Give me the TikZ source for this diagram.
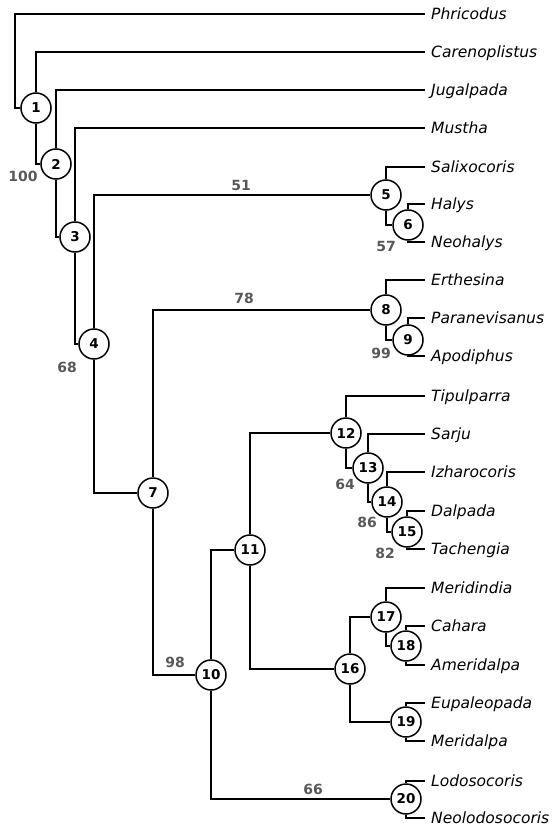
\documentclass[tikz,border=0pt]{standalone}
\usepackage{fontspec}
\newfontfamily\dejavu{DejaVu Sans}
\begin{document}
\begin{tikzpicture}[x=1pt,y=-1pt,
  br/.style={line width=2.1pt},
  cl/.style={circle,draw,line width=1.5pt,fill=white,minimum size=30pt,inner sep=0pt,font=\dejavu\bfseries\fontsize{13.5}{14}\selectfont},
  leaf/.style={anchor=west,inner xsep=6pt,inner ysep=0pt,text height=11pt,text depth=0pt,font=\dejavu\itshape\fontsize{15.5}{16}\selectfont},
  boot/.style={inner sep=0pt,text=bootgray,font=\dejavu\bfseries\fontsize{14}{14}\selectfont}]
\definecolor{bootgray}{RGB}{88,88,88}
\useasboundingbox (0,0) rectangle (557,829);
% leaves
\node[leaf] (Phricodus) at (425,14) {Phricodus};
\node[leaf] (Carenoplistus) at (425,52) {Carenoplistus};
\node[leaf] (Jugalpada) at (425,90) {Jugalpada};
\node[leaf] (Mustha) at (425,128) {Mustha};
\node[leaf] (Salixocoris) at (425,167) {Salixocoris};
\node[leaf] (Halys) at (425,204) {Halys};
\node[leaf] (Neohalys) at (425,242) {Neohalys};
\node[leaf] (Erthesina) at (425,280) {Erthesina};
\node[leaf] (Paranevisanus) at (425,318) {Paranevisanus};
\node[leaf] (Apodiphus) at (425,356) {Apodiphus};
\node[leaf] (Tipulparra) at (425,396) {Tipulparra};
\node[leaf] (Sarju) at (425,434) {Sarju};
\node[leaf] (Izharocoris) at (425,472) {Izharocoris};
\node[leaf] (Dalpada) at (425,511) {Dalpada};
\node[leaf] (Tachengia) at (425,549) {Tachengia};
\node[leaf] (Meridindia) at (425,588) {Meridindia};
\node[leaf] (Cahara) at (425,626) {Cahara};
\node[leaf] (Ameridalpa) at (425,665) {Ameridalpa};
\node[leaf] (Eupaleopada) at (425,703) {Eupaleopada};
\node[leaf] (Meridalpa) at (425,741) {Meridalpa};
\node[leaf] (Lodosocoris) at (425,781) {Lodosocoris};
\node[leaf] (Neolodosocoris) at (425,818) {Neolodosocoris};
% internal nodes
\node[cl] (n1) at (36,108) {1};
\node[cl] (n2) at (56,164) {2};
\node[cl] (n3) at (75,237) {3};
\node[cl] (n4) at (94,344) {4};
\node[cl] (n5) at (386,195) {5};
\node[cl] (n6) at (408,225) {6};
\node[cl] (n7) at (153,493) {7};
\node[cl] (n8) at (386,310) {8};
\node[cl] (n9) at (408,340) {9};
\node[cl] (n10) at (211,675) {10};
\node[cl] (n11) at (250,550) {11};
\node[cl] (n12) at (346,433) {12};
\node[cl] (n13) at (368,468) {13};
\node[cl] (n14) at (387,502) {14};
\node[cl] (n15) at (407,532) {15};
\node[cl] (n16) at (350,669) {16};
\node[cl] (n17) at (386,617) {17};
\node[cl] (n18) at (406,646) {18};
\node[cl] (n19) at (406,722) {19};
\node[cl] (n20) at (406,799) {20};
\coordinate (root) at (15,108);
% branches
\draw[br] (n1.west) -- (root) |- (Phricodus.west);
\draw[br] (n1.north) |- (Carenoplistus.west);
\draw[br] (n1.south) |- (n2.west);
\draw[br] (n2.north) |- (Jugalpada.west);
\draw[br] (n2.south) |- (n3.west);
\draw[br] (n3.north) |- (Mustha.west);
\draw[br] (n3.south) |- (n4.west);
\draw[br] (n4.north) |- (n5.west);
\draw[br] (n4.south) |- (n7.west);
\draw[br] (n5.north) |- (Salixocoris.west);
\draw[br] (n5.south) |- (n6.west);
\draw[br] (n6.north) |- (Halys.west);
\draw[br] (n6.south) |- (Neohalys.west);
\draw[br] (n7.north) |- (n8.west);
\draw[br] (n7.south) |- (n10.west);
\draw[br] (n8.north) |- (Erthesina.west);
\draw[br] (n8.south) |- (n9.west);
\draw[br] (n9.north) |- (Paranevisanus.west);
\draw[br] (n9.south) |- (Apodiphus.west);
\draw[br] (n10.north) |- (n11.west);
\draw[br] (n10.south) |- (n20.west);
\draw[br] (n11.north) |- (n12.west);
\draw[br] (n11.south) |- (n16.west);
\draw[br] (n12.north) |- (Tipulparra.west);
\draw[br] (n12.south) |- (n13.west);
\draw[br] (n13.north) |- (Sarju.west);
\draw[br] (n13.south) |- (n14.west);
\draw[br] (n14.north) |- (Izharocoris.west);
\draw[br] (n14.south) |- (n15.west);
\draw[br] (n15.north) |- (Dalpada.west);
\draw[br] (n15.south) |- (Tachengia.west);
\draw[br] (n16.north) |- (n17.west);
\draw[br] (n16.south) |- (n19.west);
\draw[br] (n17.north) |- (Meridindia.west);
\draw[br] (n17.south) |- (n18.west);
\draw[br] (n18.north) |- (Cahara.west);
\draw[br] (n18.south) |- (Ameridalpa.west);
\draw[br] (n19.north) |- (Eupaleopada.west);
\draw[br] (n19.south) |- (Meridalpa.west);
\draw[br] (n20.north) |- (Lodosocoris.west);
\draw[br] (n20.south) |- (Neolodosocoris.west);
% support values
\node[boot] (b2) at (23,176) {100};
\node[boot] (b5) at (241,185) {51};
\node[boot] (b6) at (386,246) {57};
\node[boot] (b4) at (67,367) {68};
\node[boot] (b8) at (244,298) {78};
\node[boot] (b9) at (381,353) {99};
\node[boot] (b13) at (345,484) {64};
\node[boot] (b14) at (367,522) {86};
\node[boot] (b15) at (385,553) {82};
\node[boot] (b10) at (175,662) {98};
\node[boot] (b20) at (313,789) {66};
\end{tikzpicture}
\end{document}
